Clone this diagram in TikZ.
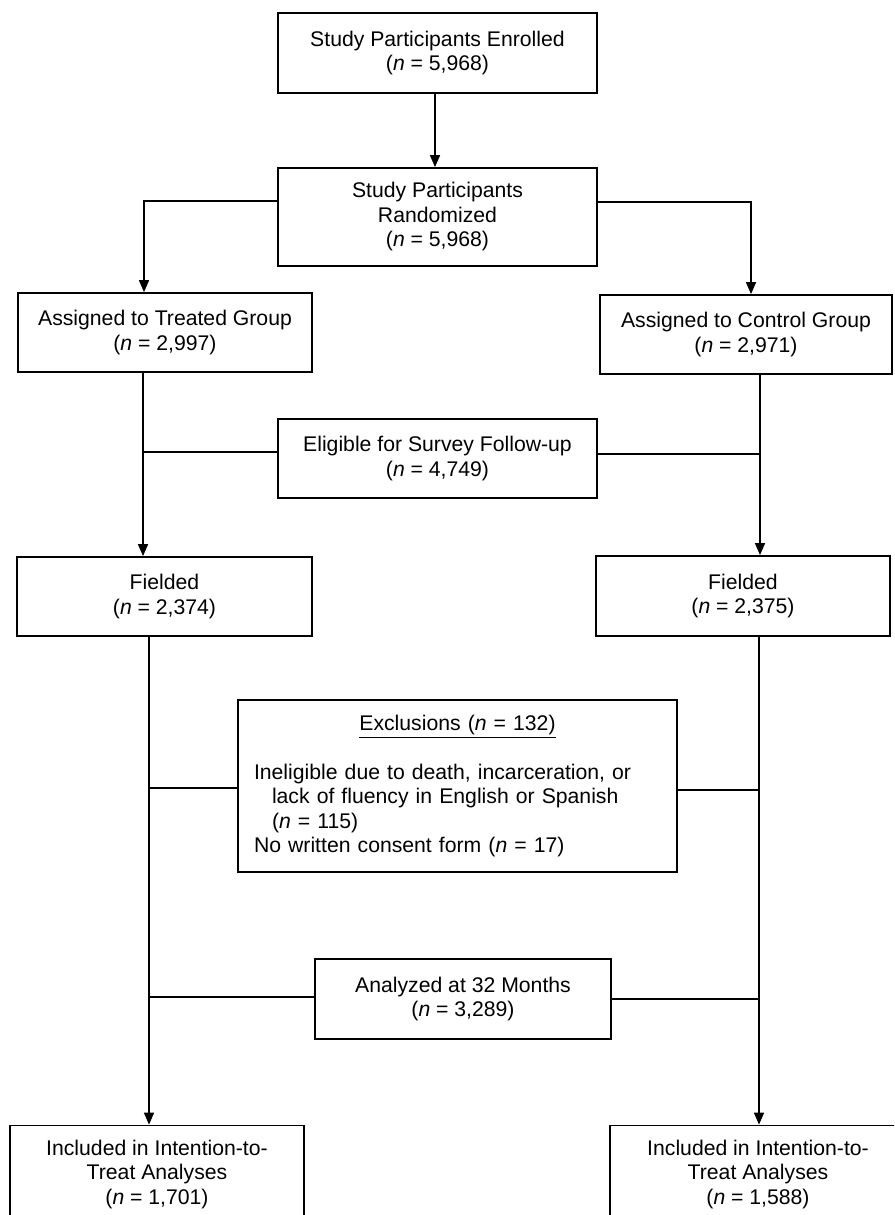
\documentclass[tikz,border=0pt]{standalone}
\usepackage{fontspec}
\setmainfont{Liberation Sans}
\usetikzlibrary{arrows.meta}
\tikzset{
  box/.style={draw=black, line width=0.9pt, inner sep=0pt, align=center, fill=white},
  conn/.style={draw=black, line width=0.8pt},
  arr/.style={conn, -{Triangle[length=6pt,width=5pt]}}
}
\begin{document}
\begin{tikzpicture}[x=0.5pt, y=-0.5pt, font=\fontsize{10.6pt}{12.25pt}\selectfont]
\clip (0,0) rectangle (894,1215);
\fill[white] (0,0) rectangle (894,1215);

\node[box, minimum width=159.5pt, minimum height=40pt] (b1) at (437.5,53)
  {Study Participants Enrolled\\(\textit{n} = 5,968)};
\node[box, minimum width=159.5pt, minimum height=49pt] (b2) at (437.5,217)
  {Study Participants\\Randomized\\(\textit{n} = 5,968)};
\node[box, minimum width=147pt, minimum height=39.5pt] (b3) at (165,332.5)
  {Assigned to Treated Group\\(\textit{n} = 2,997)};
\node[box, minimum width=146pt, minimum height=39.5pt] (b4) at (746,334.5)
  {Assigned to Control Group\\(\textit{n} = 2,971)};
\node[box, minimum width=159.5pt, minimum height=39.5pt] (el) at (437.5,458.5)
  {Eligible for Survey Follow-up\\(\textit{n} = 4,749)};
\node[box, minimum width=147.5pt, minimum height=39.5pt] (b5) at (164.5,596.5)
  {Fielded\\(\textit{n} = 2,374)};
\node[box, minimum width=147pt, minimum height=40pt] (b6) at (743,596)
  {Fielded\\(\textit{n} = 2,375)};
\node[box, minimum width=219.5pt, minimum height=86pt, inner xsep=8pt, text width=203.5pt, align=left] (ex) at (457.5,786)
  {\makebox[203.5pt][c]{\underline{Exclusions (\textit{n} = 132)}}\\
   \mbox{}\\
   Ineligible due to death, incarceration, or\\
   \hspace*{9pt}lack of fluency in English or Spanish\\
   \hspace*{9pt}(\textit{n} = 115)\\
   No written consent form (\textit{n} = 17)};
\node[box, minimum width=148pt, minimum height=40pt] (an) at (463,999)
  {Analyzed at 32 Months\\(\textit{n} = 3,289)};
\node[box, minimum width=147pt, minimum height=48.5pt] (b7) at (157,1174)
  {Included in Intention-to-\\Treat Analyses\\(\textit{n} = 1,701)};
\node[box, minimum width=148pt, minimum height=48.5pt] (b8) at (758,1174)
  {Included in Intention-to-\\Treat Analyses\\(\textit{n} = 1,588)};

% junction coordinates
\coordinate (tL) at (144,201);
\coordinate (tR) at (751,202);
\coordinate (cL1) at (143,0);
\coordinate (cR1) at (760,0);
\coordinate (jE1) at (143,452);
\coordinate (jE2) at (760,454);
\coordinate (cL2) at (149,0);
\coordinate (cR2) at (759,0);
\coordinate (jX1) at (149,788);
\coordinate (jX2) at (759,790);
\coordinate (jA1) at (149,997);
\coordinate (jA2) at (759,999);

\draw[arr] (b1.south -| 435,0) -- (b2.north -| 435,0);
\draw[arr] (b2.west |- tL) -- (tL) -- (tL |- b3.north);
\draw[arr] (b2.east |- tR) -- (tR) -- (tR |- b4.north);
\draw[arr] (cL1 |- b3.south) -- (cL1 |- b5.north);
\draw[arr] (cR1 |- b4.south) -- (cR1 |- b6.north);
\draw[conn] (el.west |- jE1) -- (jE1);
\draw[conn] (el.east |- jE2) -- (jE2);
\draw[arr] (cL2 |- b5.south) -- (cL2 |- b7.north);
\draw[arr] (cR2 |- b6.south) -- (cR2 |- b8.north);
\draw[conn] (ex.west |- jX1) -- (jX1);
\draw[conn] (ex.east |- jX2) -- (jX2);
\draw[conn] (an.west |- jA1) -- (jA1);
\draw[conn] (an.east |- jA2) -- (jA2);
\end{tikzpicture}
\end{document}
